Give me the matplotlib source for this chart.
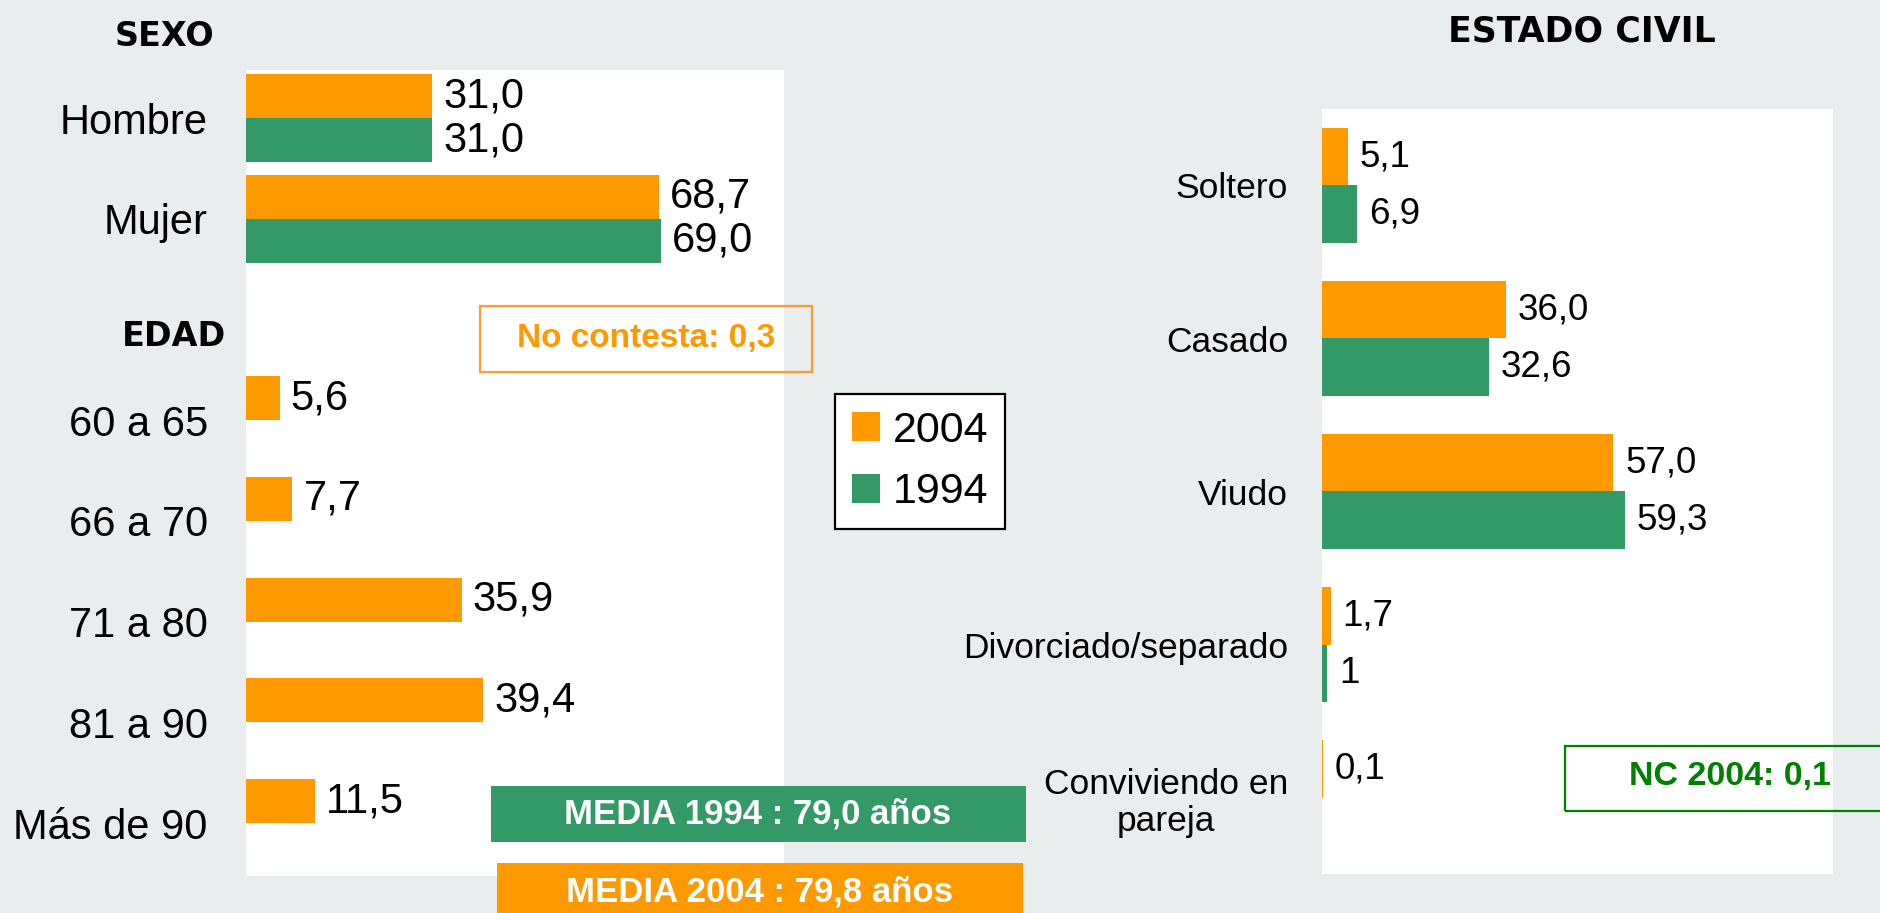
import matplotlib
matplotlib.use('Agg')
import matplotlib.pyplot as plt
from matplotlib.patches import Rectangle, Patch

# ---------------- data ----------------
sexo_cats = ['Hombre', 'Mujer']
sexo_2004 = [31.0, 68.7]
sexo_1994 = [31.0, 69.0]

edad_cats = ['60 a 65', '66 a 70', '71 a 80', '81 a 90', 'Más de 90']
edad_2004 = [5.6, 7.7, 35.9, 39.4, 11.5]

civil_cats = ['Soltero', 'Casado', 'Viudo', 'Divorciado/separado', 'Conviviendo en\npareja']
civil_2004 = [5.1, 36.0, 57.0, 1.7, 0.1]
civil_1994 = [6.9, 32.6, 59.3, 1.0, None]
civil_1994_txt = ['6,9', '32,6', '59,3', '1', '']

series_names = ['2004', '1994']
media_1994 = 79.0
media_2004 = 79.8
no_contesta_edad = 0.3
nc_civil_2004 = 0.1

# ---------------- style ----------------
ORANGE = '#FF9900'
GREEN = '#339966'
BG = '#E9EDEE'
DARKGREEN = '#008000'
plt.rcParams['font.family'] = ['Liberation Sans', 'DejaVu Sans']

W, H = 1881, 913
fig = plt.figure(figsize=(W / 100, H / 100), dpi=100, facecolor=BG)


def fx(px):
    return px / W


def fy(py):
    return 1 - py / H


def rect(x0, y0, x1, y1):
    return [x0 / W, 1 - y1 / H, (x1 - x0) / W, (y1 - y0) / H]


def fmt(v):
    return f"{v:.1f}".replace('.', ',')


def clean(ax):
    for s in ax.spines.values():
        s.set_visible(False)
    ax.set_xticks([])
    ax.set_facecolor('white')


# ---------------- left panel: sexo + edad ----------------
axL = fig.add_axes(rect(246, 70, 784, 876))
clean(axL)
hL = 0.437
pos_sexo = list(range(len(sexo_cats)))
pos_edad = [len(sexo_cats) + 1 + i for i in range(len(edad_cats))]

axL.barh([p - hL / 2 for p in pos_sexo], sexo_2004, height=hL, color=ORANGE)
axL.barh([p + hL / 2 for p in pos_sexo], sexo_1994, height=hL, color=GREEN)
axL.barh([p - hL / 2 for p in pos_edad], edad_2004, height=hL, color=ORANGE)
axL.set_xlim(0, 89.5)
axL.set_ylim(7.526, -0.477)

axL.set_yticks(pos_sexo + pos_edad)
axL.set_yticklabels(sexo_cats + edad_cats, fontsize=30)
axL.tick_params(axis='y', left=False, pad=24)

for p, v in zip(pos_sexo, sexo_2004):
    axL.annotate(fmt(v), xy=(v, p - hL / 2), xytext=(8, 0), textcoords='offset points',
                 va='center', ha='left', fontsize=30)
for p, v in zip(pos_sexo, sexo_1994):
    axL.annotate(fmt(v), xy=(v, p + hL / 2), xytext=(8, 0), textcoords='offset points',
                 va='center', ha='left', fontsize=30)
for p, v in zip(pos_edad, edad_2004):
    axL.annotate(fmt(v), xy=(v, p - hL / 2), xytext=(8, 0), textcoords='offset points',
                 va='center', ha='left', fontsize=30)

# ---------------- right panel: estado civil ----------------
axR = fig.add_axes(rect(1322, 109, 1833, 874))
clean(axR)
hR = 0.373
pos_c = list(range(len(civil_cats)))
axR.barh([p - hR / 2 for p in pos_c], civil_2004, height=hR, color=ORANGE)
pc94 = [p for p, v in zip(pos_c, civil_1994) if v is not None]
v94 = [v for v in civil_1994 if v is not None]
axR.barh([p + hR / 2 for p in pc94], v94, height=hR, color=GREEN)
axR.set_xlim(0, 100)
axR.set_ylim(4.5, -0.5)
axR.set_yticks(pos_c)
axR.set_yticklabels(civil_cats, fontsize=25.5, linespacing=1.15)
for lab in axR.get_yticklabels():
    lab.set_multialignment('center')
axR.tick_params(axis='y', left=False, pad=21)

for p, v in zip(pos_c, civil_2004):
    axR.annotate(fmt(v), xy=(v, p - hR / 2), xytext=(8.5, 0), textcoords='offset points',
                 va='center', ha='left', fontsize=26.5)
for p, v, t in zip(pos_c, civil_1994, civil_1994_txt):
    if v is not None:
        axR.annotate(t, xy=(v, p + hR / 2), xytext=(8.5, 0), textcoords='offset points',
                     va='center', ha='left', fontsize=26.5)

# ---------------- titles ----------------
fig.text(fx(214), fy(36), 'SEXO', ha='right', va='center', fontsize=24,
         fontweight='bold', family='DejaVu Sans')
fig.text(fx(226), fy(336), 'EDAD', ha='right', va='center', fontsize=24,
         fontweight='bold', family='DejaVu Sans')
fig.text(fx(1582), fy(31), 'ESTADO CIVIL', ha='center', va='center', fontsize=25,
         fontweight='bold', family='DejaVu Sans')

# ---------------- annotation boxes ----------------
r = Rectangle((fx(480), fy(372)), (812 - 480) / W, (372 - 306) / H, transform=fig.transFigure,
              fill=False, edgecolor='#FF9933', lw=1.6)
fig.add_artist(r)
fig.text(fx(646), fy(338), f"No contesta: {fmt(no_contesta_edad)}", ha='center', va='center',
         fontsize=24, fontweight='bold', color=ORANGE)

r = Rectangle((fx(1565), fy(811)), (1900 - 1565) / W, (811 - 746) / H, transform=fig.transFigure,
              fill=False, edgecolor=DARKGREEN, lw=1.6)
fig.add_artist(r)
fig.text(fx(1730), fy(776), f"NC 2004: {fmt(nc_civil_2004)}", ha='center', va='center',
         fontsize=24.5, fontweight='bold', color=DARKGREEN)

r = Rectangle((fx(491), fy(842)), (1026 - 491) / W, (842 - 786) / H, transform=fig.transFigure,
              facecolor=GREEN, edgecolor='none')
fig.add_artist(r)
fig.text(fx(758), fy(814), f"MEDIA 1994 : {fmt(media_1994)} años", ha='center', va='center',
         fontsize=25, fontweight='bold', color='white')

r = Rectangle((fx(497), fy(930)), (1023 - 497) / W, (930 - 863) / H, transform=fig.transFigure,
              facecolor=ORANGE, edgecolor='none')
fig.add_artist(r)
fig.text(fx(760), fy(892), f"MEDIA 2004 : {fmt(media_2004)} años", ha='center', va='center',
         fontsize=25, fontweight='bold', color='white')

# ---------------- legend ----------------
handles = [Patch(facecolor=ORANGE, label=series_names[0]),
           Patch(facecolor=GREEN, label=series_names[1])]
leg = fig.legend(handles=handles, loc='center', bbox_to_anchor=(fx(920), fy(461.5)),
                 fontsize=31, frameon=True, fancybox=False, framealpha=1,
                 edgecolor='black', handlelength=0.65, handleheight=0.65,
                 handletextpad=0.3, labelspacing=0.5, borderpad=0.4)
leg.get_frame().set_linewidth(1.6)

fig.savefig('out.png', dpi=100, facecolor=BG)
